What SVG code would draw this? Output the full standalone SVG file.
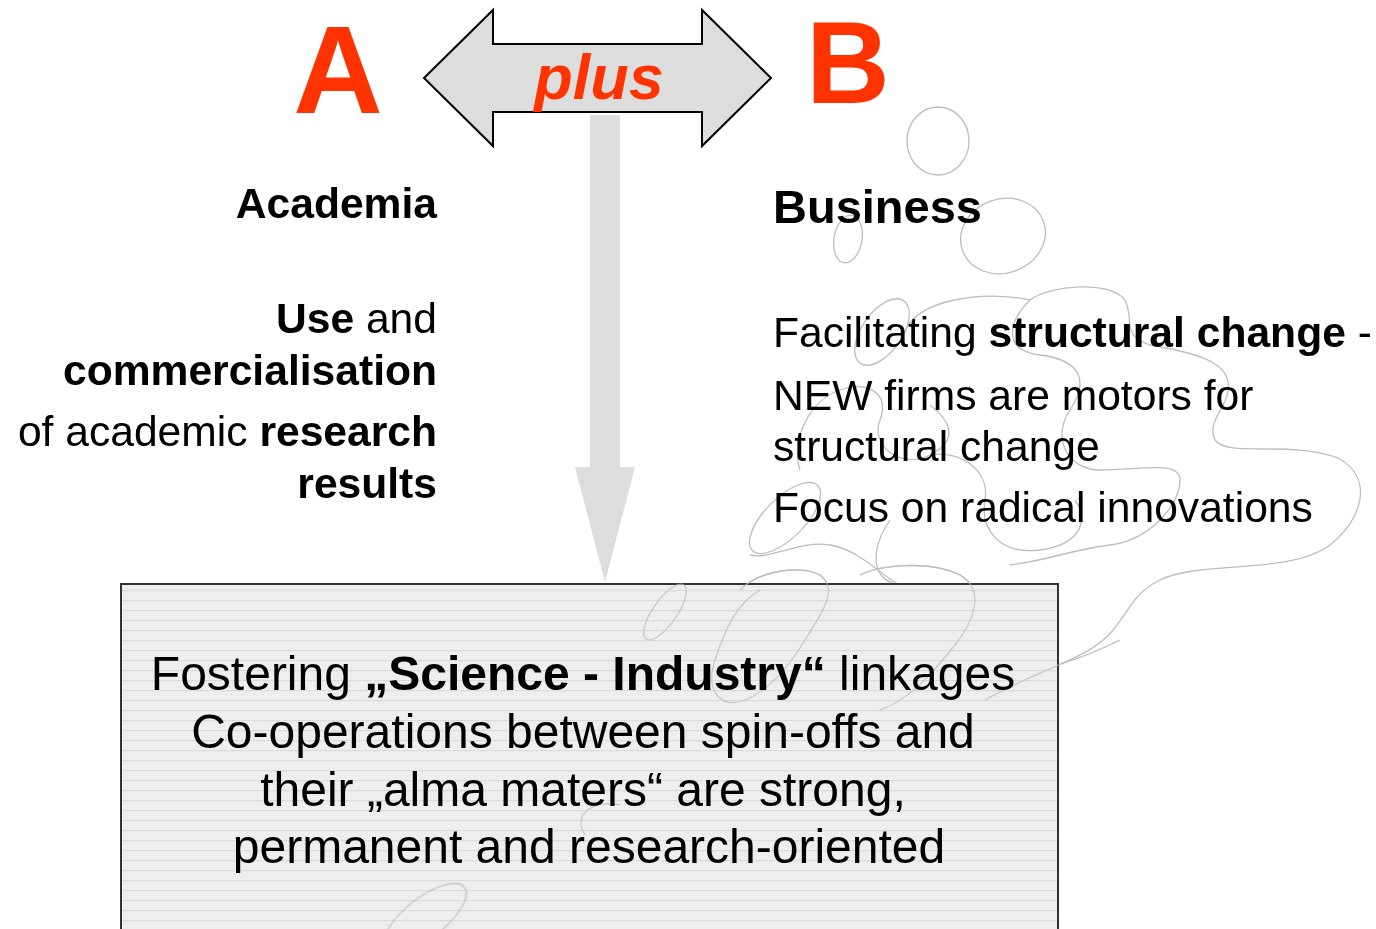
<svg xmlns="http://www.w3.org/2000/svg" width="1376" height="929" viewBox="0 0 1376 929">
<style>
text{font-family:"Liberation Sans",Arial,sans-serif;fill:#000}
.b{font-weight:bold}
.red{fill:#FF3300;font-weight:bold}
.bub{fill:none;stroke:#BDBDBD;stroke-width:1.3}
.lbl{font-size:42.6px}
</style>
<defs>
<pattern id="lines" width="10" height="10" patternUnits="userSpaceOnUse">
<rect width="10" height="10" fill="#EEEEEE"/>
<rect y="0" width="10" height="1.2" fill="#DCDCDC"/>
</pattern>
</defs>
<rect width="1376" height="929" fill="#FFFFFF"/>

<g id="bubbles">
<ellipse class="bub" cx="938" cy="141" rx="31" ry="34"/>
<ellipse class="bub" cx="1003" cy="236" rx="43" ry="37" transform="rotate(-20 1003 236)"/>
<ellipse class="bub" cx="848" cy="239" rx="14" ry="24" transform="rotate(10 848 239)"/>
<ellipse class="bub" cx="882" cy="332" rx="20" ry="38" transform="rotate(35 882 332)"/>
<ellipse class="bub" cx="785" cy="518" rx="20" ry="46" transform="rotate(45 785 518)"/>
<path class="bub" d="M 800 470 C 790 440, 810 400, 840 390 C 870 380, 890 395, 880 420 C 870 445, 900 470, 930 455 C 960 440, 950 420, 930 405"/>
<path class="bub" d="M 905 330 C 920 300, 980 290, 1030 300 C 1050 285, 1110 280, 1125 300 C 1135 320, 1120 335, 1150 345 C 1190 352, 1225 360, 1228 382 C 1232 405, 1205 420, 1215 440 C 1228 458, 1290 440, 1338 458 C 1375 478, 1362 520, 1330 545 C 1290 575, 1200 560, 1160 580 C 1120 600, 1130 630, 1080 655 C 1050 670, 1020 680, 985 700"/>
<path class="bub" d="M 1030 300 C 1010 320, 1000 350, 1040 355 C 1080 360, 1090 380, 1070 410 C 1050 440, 1070 470, 1100 470 C 1140 470, 1180 460, 1180 480 C 1180 505, 1150 540, 1110 545 C 1070 550, 1050 560, 1010 565"/>
<path class="bub" d="M 930 455 C 960 450, 990 470, 985 500 C 980 530, 1000 555, 1040 550 C 1080 545, 1090 520, 1075 500"/>
<path class="bub" d="M 890 520 C 870 550, 870 580, 900 585 C 930 590, 960 580, 985 590 C 1000 600, 980 620, 960 640"/>
<path class="bub" d="M 750 555 C 770 560, 800 540, 830 545 C 860 550, 880 575, 900 585"/>
<path class="bub" d="M 740 590 C 760 570, 800 565, 820 575 C 840 590, 820 615, 805 640"/>
<path class="bub" d="M 860 575 C 880 565, 930 560, 960 575 C 985 590, 975 620, 955 645"/>
<path class="bub" d="M 1058 665 C 1080 658, 1100 650, 1120 640"/>
</g>

<g id="box">
<rect x="121" y="584" width="937" height="360" fill="url(#lines)" stroke="#333333" stroke-width="2"/>
</g>

<g id="bubbles-over-box" opacity="0.75">
<ellipse class="bub" cx="665" cy="612" rx="12" ry="33" transform="rotate(35 665 612)"/>
<path class="bub" d="M 740 590 C 760 570, 800 565, 820 575 C 840 590, 820 615, 805 640 C 790 665, 770 690, 745 700 C 720 710, 705 690, 715 660 C 725 630, 735 605, 760 590"/>
<path class="bub" d="M 860 575 C 880 565, 930 560, 960 575 C 985 590, 975 620, 955 645 C 935 670, 910 700, 880 710"/>
<path class="bub" d="M 1080 655 C 1050 670, 1020 680, 985 700"/>
<ellipse class="bub" cx="425" cy="918" rx="20" ry="50" transform="rotate(52 425 918)"/>
<path class="bub" d="M 585 835 C 570 810, 600 800, 620 805"/>
</g>

<g id="connectors">
<path id="double-arrow" d="M 424 78 L 493 10 L 493 44 L 702 44 L 702 10 L 771 78 L 702 146 L 702 112 L 493 112 L 493 146 Z" fill="#DDDDDD" stroke="#000000" stroke-width="2" stroke-linejoin="miter"/>
<path id="down-arrow" d="M 590 115 L 620 115 L 620 467 L 635 467 L 605 582 L 575 467 L 590 467 Z" fill="#DDDDDD"/>
</g>

<g id="label-plus">
<text x="599" y="99" class="red" font-style="italic" font-size="63" text-anchor="middle">plus</text>
</g>

<g id="node-A">
<text x="338" y="113" class="red" font-size="124" text-anchor="middle">A</text>
</g>
<g id="node-B">
<text x="848" y="103" class="red" font-size="116" text-anchor="middle">B</text>
</g>

<g id="academia">
<text x="437" y="218" class="b lbl" text-anchor="end">Academia</text>
<text x="437" y="333" class="lbl" text-anchor="end"><tspan class="b">Use</tspan> and</text>
<text x="437" y="385" class="b lbl" text-anchor="end">commercialisation</text>
<text x="437" y="446" class="lbl" text-anchor="end">of academic <tspan class="b">research</tspan></text>
<text x="437" y="498" class="b lbl" text-anchor="end">results</text>
</g>

<g id="business">
<text x="773" y="223" class="b" font-size="47">Business</text>
<text x="773" y="347" class="lbl">Facilitating <tspan class="b">structural change</tspan> -</text>
<text x="773" y="410" class="lbl">NEW firms are motors for</text>
<text x="773" y="461" class="lbl">structural change</text>
<text x="773" y="522" class="lbl">Focus on radical innovations</text>
</g>

<g id="box-text" font-size="48" text-anchor="middle">
<text x="583" y="690">Fostering <tspan class="b">„Science - Industry“</tspan> linkages</text>
<text x="583" y="748">Co-operations between spin-offs and</text>
<text x="583" y="806">their „alma maters“ are strong,</text>
<text x="589" y="863">permanent and research-oriented</text>
</g>
</svg>
